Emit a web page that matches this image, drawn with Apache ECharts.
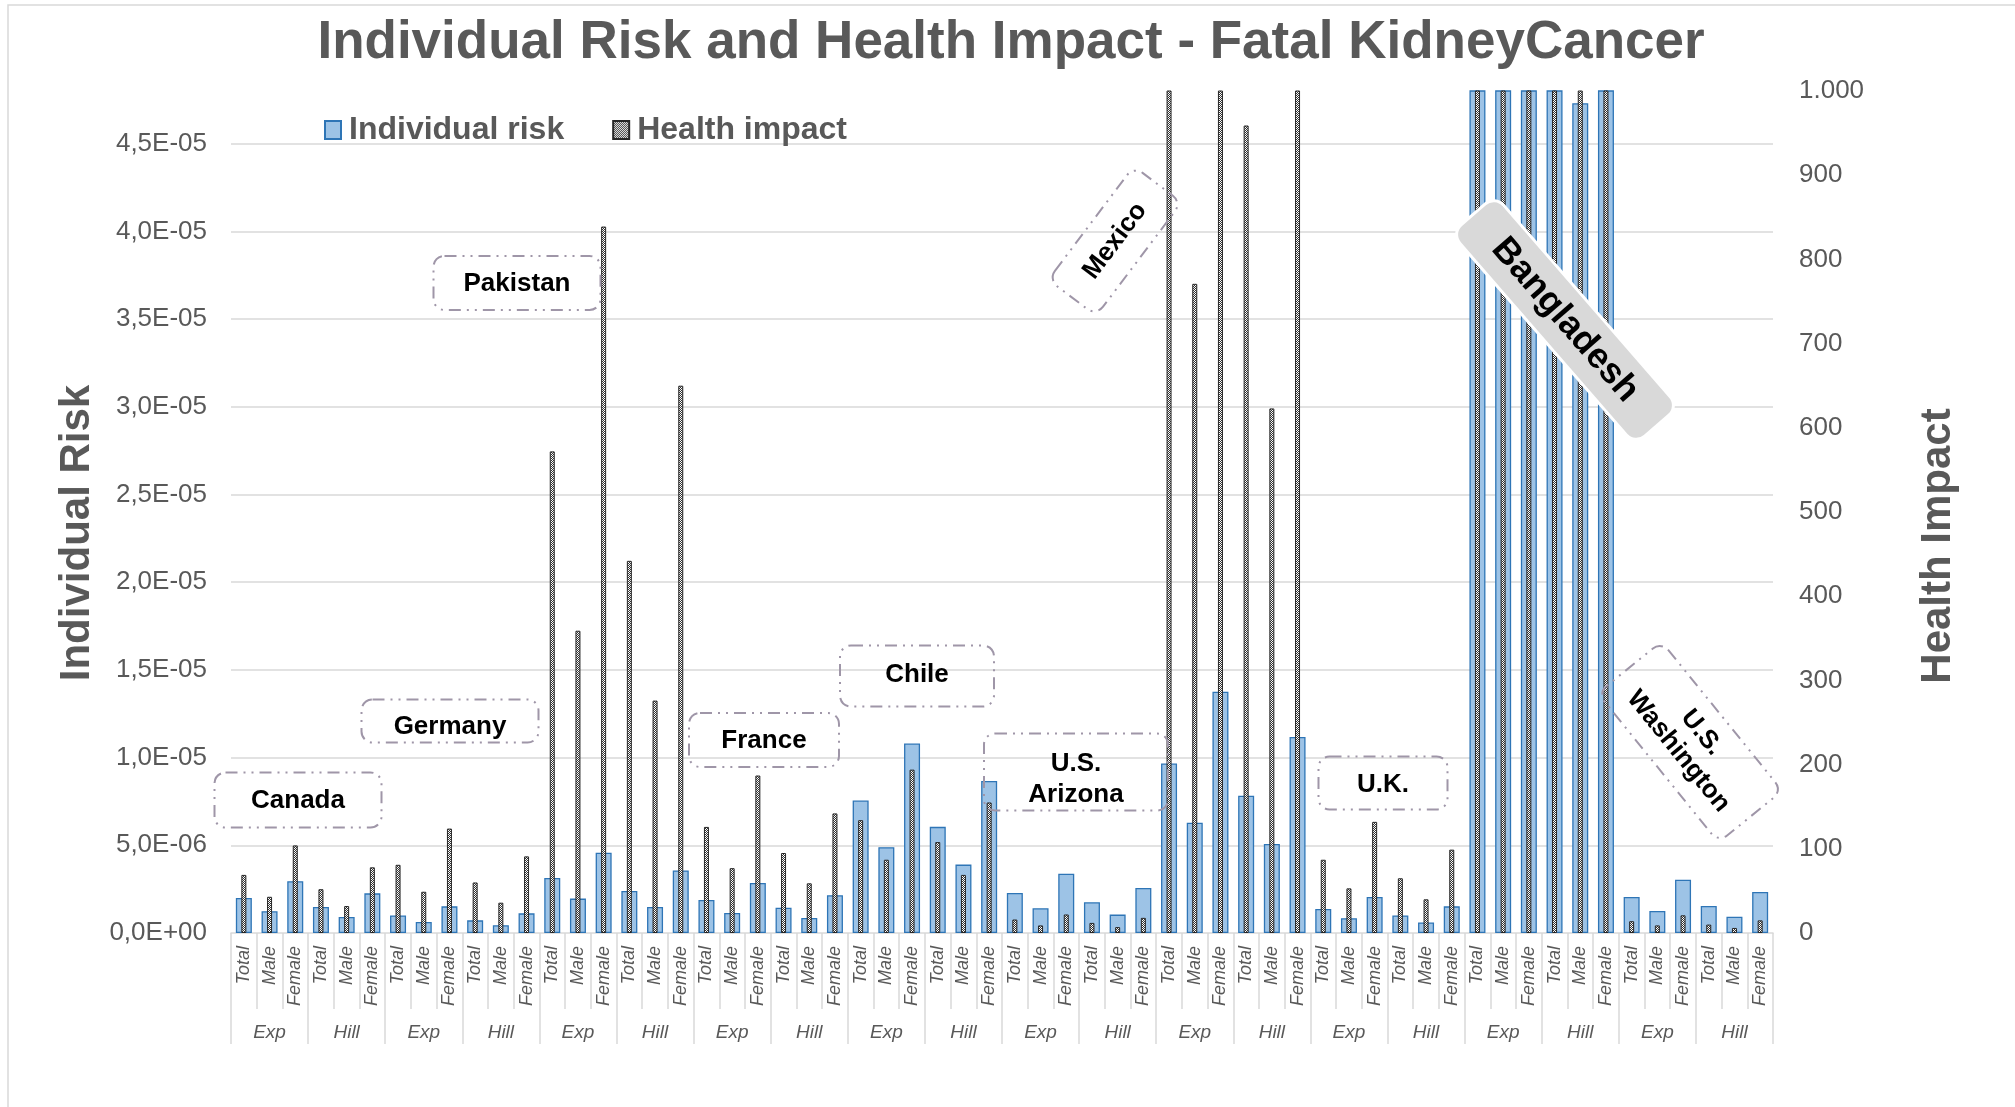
<!DOCTYPE html>
<html>
<head>
<meta charset="utf-8">
<title>Individual Risk and Health Impact - Fatal KidneyCancer</title>
<script src="https://cdn.jsdelivr.net/npm/echarts@6/dist/echarts.min.js"></script>
<style>
  html, body { margin: 0; padding: 0; background: #fff; }
  #chart { width: 2015px; height: 1107px; }
</style>
</head>
<body>
<div id="chart"></div>
<script>
const countries = ['Canada', 'Germany', 'Pakistan', 'France', 'Chile', 'U.S. Arizona', 'Mexico', 'U.K.', 'Bangladesh', 'U.S. Washington']
const models = ['Exp', 'Hill']
const sexes = ['Total', 'Male', 'Female']

// individual risk, order: country > model > sex
const individualRisk = [
  2.00e-6, 1.24e-6, 2.95e-6,   1.48e-6, 0.91e-6, 2.26e-6,   // Canada
  1.00e-6, 0.63e-6, 1.52e-6,   0.72e-6, 0.44e-6, 1.12e-6,   // Germany
  3.14e-6, 1.96e-6, 4.58e-6,   2.40e-6, 1.48e-6, 3.57e-6,   // Pakistan
  1.88e-6, 1.14e-6, 2.85e-6,   1.44e-6, 0.86e-6, 2.15e-6,   // France
  7.55e-6, 4.89e-6, 10.8e-6,   6.05e-6, 3.90e-6, 8.67e-6,   // Chile
  2.28e-6, 1.41e-6, 3.38e-6,   1.75e-6, 1.05e-6, 2.57e-6,   // U.S. Arizona
  9.66e-6, 6.29e-6, 13.75e-6,  7.83e-6, 5.08e-6, 11.18e-6,  // Mexico
  1.37e-6, 0.84e-6, 2.05e-6,   1.00e-6, 0.60e-6, 1.52e-6,   // U.K.
  74e-6, 52e-6, 95e-6,         66e-6, 47.3e-6, 86e-6,       // Bangladesh (most off scale)
  2.05e-6, 1.25e-6, 3.04e-6,   1.54e-6, 0.93e-6, 2.34e-6    // U.S. Washington
]

// health impact (right axis)
const healthImpact = [
  69, 43, 104,     52, 32, 78,
  81, 49, 124,     60, 36, 91,
  572, 359, 839,   442, 276, 650,
  126, 77, 187,    95, 59, 142,
  134, 87, 194,    108, 69, 155,
  16, 9, 22,       12, 7, 18,
  1120, 771, 1600, 959, 623, 1380,
  87, 53, 132,     65, 40, 99,
  5200, 3600, 6900, 4600, 3200, 6200,
  14, 9, 21,       10, 6, 15
]

const categories = []
const groups = []
countries.forEach(c => models.forEach(m => {
  groups.push(c + '|' + m)
  sexes.forEach(s => categories.push(c + '|' + m + '|' + s))
}))

const FONT = '"Liberation Sans", Arial, sans-serif'
const GRAY = '#595959'
const GRID = '#d9d9d9'

function fmtRisk(v) {
  const step = v / 5e-6
  if (Math.abs(step - Math.round(step)) > 1e-6) return ''
  if (v === 0) return '0,0E+00'
  const e = Math.floor(Math.log10(v) + 1e-9)
  const m = (v / Math.pow(10, e)).toFixed(1).replace('.', ',')
  return m + 'E' + (e < 0 ? '-' : '+') + String(Math.abs(e)).padStart(2, '0')
}

function fmtImpact(v) {
  return v >= 1000 ? (v / 1000) + '.' + String(v % 1000).padStart(3, '0') : String(v)
}

// checker pattern for the health impact bars
const pat = document.createElement('canvas')
pat.width = 2
pat.height = 2
const pg = pat.getContext('2d')
pg.fillStyle = '#333333'
pg.fillRect(0, 0, 2, 2)
pg.fillStyle = '#ffffff'
pg.fillRect(0, 0, 1, 1)
pg.fillRect(1, 1, 1, 1)

const DASH = [12, 6, 2, 6, 2, 6]

function note(cx, cy, w, h, text, opt) {
  opt = opt || {}
  return {
    type: 'group',
    x: cx,
    y: cy,
    rotation: (opt.rot || 0) * Math.PI / 180,
    children: [
      {
        type: 'rect',
        z: 100,
        shape: { x: -w / 2, y: -h / 2, width: w, height: h, r: opt.r || 11 },
        style: opt.filled
          ? { fill: '#d9d9d9', stroke: '#ffffff', lineWidth: 3 }
          : { fill: 'none', stroke: '#9f96a8', lineWidth: 2, lineDash: DASH }
      },
      {
        type: 'text',
        z: 101,
        x: opt.dx || 0,
        y: opt.dy || 0,
        style: {
          text: text,
          font: 'bold ' + (opt.size || 26) + 'px ' + FONT,
          fill: '#000',
          lineHeight: opt.lh || 31,
          align: 'center',
          verticalAlign: 'middle',
          textAlign: 'center',
          textVerticalAlign: 'middle'
        }
      }
    ]
  }
}

const chart = echarts.init(document.getElementById('chart'))

chart.setOption({
  animation: false,
  grid: { left: 231, right: 242, top: 91, bottom: 174 },
  legend: {
    data: ['Individual risk', 'Health impact'],
    left: 324,
    top: 114,
    padding: 0,
    icon: 'rect',
    itemWidth: 16,
    itemHeight: 18,
    itemGap: 48,
    textStyle: { color: GRAY, fontSize: 32, fontWeight: 'bold', fontFamily: FONT, padding: [0, 0, 0, 3] }
  },
  xAxis: [
    {
      type: 'category',
      data: categories,
      position: 'bottom',
      axisLine: { show: true, lineStyle: { color: GRID, width: 1.5 } },
      axisTick: { show: true, interval: 0, length: 76, lineStyle: { color: GRID, width: 1.5 } },
      axisLabel: {
        interval: 0,
        rotate: 90,
        margin: 13,
        color: GRAY,
        fontSize: 18,
        fontStyle: 'italic',
        fontFamily: FONT,
        formatter: v => v.split('|')[2]
      }
    },
    {
      type: 'category',
      data: categories,
      show: false
    },
    {
      type: 'category',
      data: groups,
      position: 'bottom',
      axisLine: { show: false },
      axisTick: { show: true, interval: 0, length: 111, lineStyle: { color: GRID, width: 1.5 } },
      axisLabel: {
        interval: 0,
        margin: 90,
        color: GRAY,
        fontSize: 19,
        fontStyle: 'italic',
        fontFamily: FONT,
        formatter: v => v.split('|')[1]
      }
    }
  ],
  yAxis: [
    {
      type: 'value',
      position: 'left',
      min: 0,
      max: 4.8e-5,
      interval: 5e-6,
      axisLine: { show: false },
      axisTick: { show: false },
      splitLine: {
        show: true,
        showMinLine: false,
        showMaxLine: false,
        lineStyle: { color: GRID, width: 1.5 }
      },
      axisLabel: { color: GRAY, fontSize: 26, fontFamily: FONT, margin: 24, showMaxLabel: false, formatter: fmtRisk }
    },
    {
      type: 'value',
      position: 'right',
      min: 0,
      max: 1000,
      interval: 100,
      axisLine: { show: false },
      axisTick: { show: false },
      splitLine: { show: false },
      axisLabel: { color: GRAY, fontSize: 26, fontFamily: FONT, margin: 26, formatter: fmtImpact }
    }
  ],
  series: [
    {
      name: 'Individual risk',
      type: 'bar',
      xAxisIndex: 0,
      yAxisIndex: 0,
      barWidth: 16,
      z: 2,
      itemStyle: { color: '#9dc3e6', borderColor: '#2e75b6', borderWidth: 1.3 },
      data: individualRisk
    },
    {
      name: 'Health impact',
      type: 'bar',
      xAxisIndex: 1,
      yAxisIndex: 1,
      barWidth: 5,
      z: 3,
      itemStyle: { color: { image: pat, repeat: 'repeat' }, borderColor: '#262626', borderWidth: 1 },
      data: healthImpact
    }
  ],
  graphic: [
    {
      type: 'rect',
      z: 0,
      silent: true,
      shape: { x: 8, y: 5, width: 2030, height: 1130 },
      style: { fill: 'none', stroke: '#d9d9d9', lineWidth: 1.5 }
    },
    {
      type: 'text',
      x: 1011,
      y: 43,
      style: {
        text: 'Individual Risk and Health Impact - Fatal KidneyCancer',
        font: 'bold 53px ' + FONT,
        fill: GRAY,
        align: 'center', verticalAlign: 'middle', textAlign: 'center', textVerticalAlign: 'middle'
      }
    },
    {
      type: 'text',
      x: 77,
      y: 533,
      rotation: Math.PI / 2,
      style: {
        text: 'Individual Risk',
        font: 'bold 42px ' + FONT,
        fill: GRAY,
        align: 'center', verticalAlign: 'middle', textAlign: 'center', textVerticalAlign: 'middle'
      }
    },
    {
      type: 'text',
      x: 1938,
      y: 546,
      rotation: Math.PI / 2,
      style: {
        text: 'Health Impact',
        font: 'bold 42px ' + FONT,
        fill: GRAY,
        align: 'center', verticalAlign: 'middle', textAlign: 'center', textVerticalAlign: 'middle'
      }
    },
    note(298, 800, 167, 55, 'Canada', { dy: 1 }),
    note(450, 721, 177, 43, 'Germany', { dy: 6 }),
    note(517, 283, 167, 54, 'Pakistan', { dy: 1 }),
    note(764, 740, 150, 54, 'France', { dy: 1 }),
    note(917, 676, 154, 61, 'Chile', { dy: -1 }),
    note(1076, 772, 184, 77, 'U.S.\nArizona', { dy: 7 }),
    note(1383, 783, 129, 53, 'U.K.', { dy: 2 }),
    note(1115, 241, 142, 60, 'Mexico', { rot: 53 }),
    note(1565, 320, 280, 58, 'Bangladesh', { rot: -49, filled: true, size: 36, r: 13 }),
    note(1690, 742, 192, 82, 'U.S.\nWashington', { rot: -51, lh: 30 })
  ]
})
</script>
</body>
</html>
